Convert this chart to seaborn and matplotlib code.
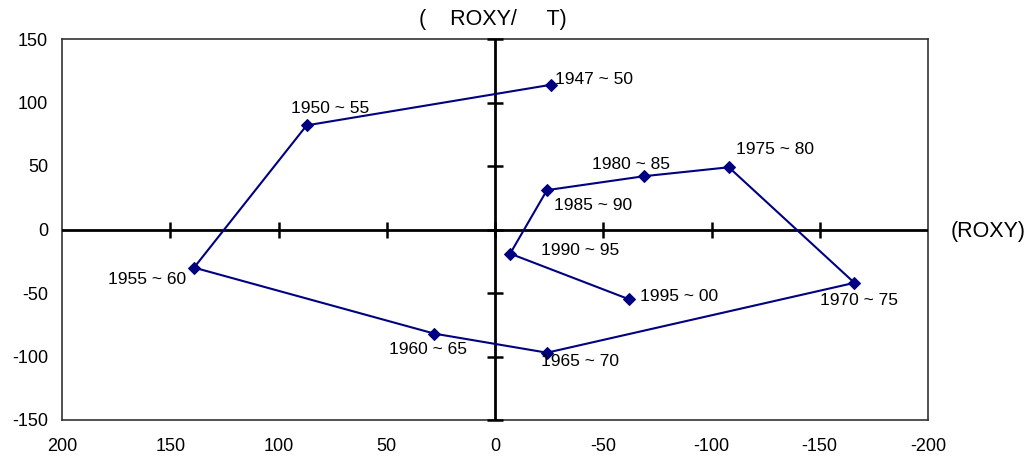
import matplotlib
matplotlib.use("Agg")
import matplotlib.pyplot as plt
import seaborn as sns
import pandas as pd

periods = ["1947 ~ 50", "1950 ~ 55", "1955 ~ 60", "1960 ~ 65", "1965 ~ 70", "1970 ~ 75",
           "1975 ~ 80", "1980 ~ 85", "1985 ~ 90", "1990 ~ 95", "1995 ~ 00"]
x_vals = [-26, 87, 139, 28, -24, -166, -108, -69, -24, -7, -62]
y_vals = [114, 82, -30, -82, -97, -42, 49, 42, 31, -19, -55]
x_ticks = [200, 150, 100, 50, 0, -50, -100, -150, -200]
y_ticks = [150, 100, 50, 0, -50, -100, -150]
# label offsets in pixels (dx, dy) and alignment
label_offsets = [(4, 5, "left"), (23, 17, "center"), (-8, -12, "right"), (-6, -16, "center"),
                 (-6, -9, "left"), (5, -18, "center"), (7, 18, "left"), (-13, 12, "center"),
                 (7, -15, "left"), (31, 3, "left"), (11, 3, "left")]

df = pd.DataFrame({"period": periods, "x": x_vals, "y": y_vals})

sns.set_theme(style="white")
plt.rcParams["font.family"] = ["Liberation Sans", "DejaVu Sans"]
plt.rcParams["text.color"] = "black"

fig = plt.figure(figsize=(10.34, 4.62), dpi=100)
ax = fig.add_axes([62/1034, 1-420/462, (928-62)/1034, (420-39)/462])

sns.lineplot(data=df, x="x", y="y", sort=False, estimator=None, color="#000080",
             marker="D", markersize=6, markeredgecolor="#000080", linewidth=1.5, ax=ax, zorder=5)

ax.set_xlim(200, -200)
ax.set_ylim(-150, 150)
ax.set_xticks(x_ticks)
ax.set_yticks(y_ticks)
ax.set_xticklabels([str(t) for t in x_ticks], fontsize=13)
ax.set_yticklabels([str(t) for t in y_ticks], fontsize=13)
ax.tick_params(axis="x", length=0, pad=13, colors="black")
ax.tick_params(axis="y", length=0, pad=10, colors="black")
ax.set_xlabel("")
ax.set_ylabel("")
for s in ax.spines.values():
    s.set_color("#333333")
    s.set_linewidth(1.2)

# zero axes lines with crossing ticks
ax.axhline(0, color="black", lw=2, zorder=3)
ax.axvline(0, color="black", lw=2, zorder=3)
ax.plot([t for t in x_ticks if t not in (200, -200)], [0]*7, ls="none", marker="|",
        ms=11, mew=1.8, color="black", zorder=3, clip_on=False)
ax.plot([0]*len(y_ticks), y_ticks, ls="none", marker="_", ms=11, mew=1.8, color="black",
        zorder=3, clip_on=False)

for (lab, xv, yv), (dx, dy, ha) in zip(zip(periods, x_vals, y_vals), label_offsets):
    ax.annotate(lab, (xv, yv), xytext=(dx, dy), textcoords="offset pixels",
                ha=ha, va="center", fontsize=12.5, color="black", zorder=6)

fig.text(493/1034, 1-20/462, "(    ROXY/     T)", ha="center", va="center", fontsize=15.5,
         color="black")
fig.text(988/1034, 1-231/462, "(ROXY)", ha="center", va="center", fontsize=15.5,
         color="black")

fig.savefig("out.png", dpi=100)
